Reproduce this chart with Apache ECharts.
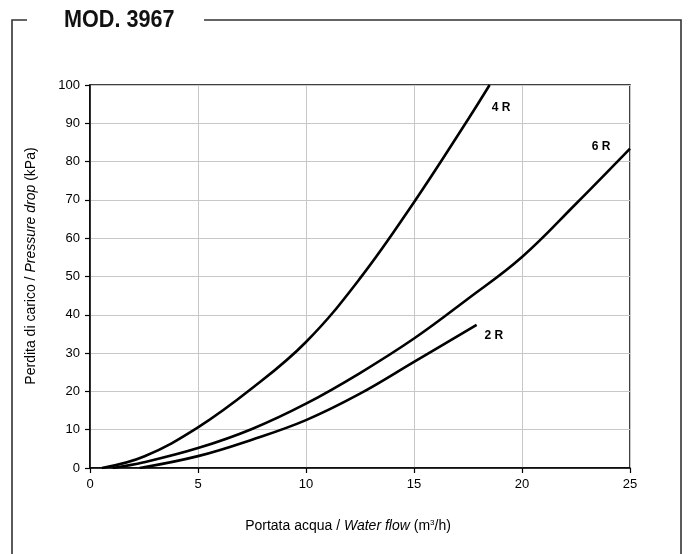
<!DOCTYPE html>
<html><head><meta charset="utf-8">
<script src="https://cdn.jsdelivr.net/npm/echarts@6/dist/echarts.min.js"></script>
<style>html,body{margin:0;padding:0;background:#fff;}#c{width:691px;height:554px;}</style>
</head><body><div id="c"></div>
<script>
const titleText = 'MOD. 3967';
const xTicks = [0, 5, 10, 15, 20, 25];
const yTicks = [0, 10, 20, 30, 40, 50, 60, 70, 80, 90, 100];

const r4x = [0.55, 2.5, 5, 7.5, 10, 12.5, 15, 17.5, 18.5];
const r4y = [0, 3.0, 10.6, 20.8, 32.9, 49.5, 69.4, 91, 100];
const r6x = [1.05, 2.5, 5, 7.5, 10, 12.5, 15, 17.5, 20, 22.5, 25];
const r6y = [0, 1.5, 5.2, 10.2, 16.8, 24.8, 33.8, 44.2, 55.1, 69, 83.4];
const r2x = [2.3, 5, 7.5, 10, 12.5, 15, 17.9];
const r2y = [0, 3.1, 7.4, 12.5, 19.4, 27.7, 37.4];

const seriesNames = ['4 R', '6 R', '2 R'];
const labelPos = [[19.03, 94.2], [23.66, 84.0], [18.7, 34.6]];

function pts(xs, ys) { return xs.map((x, i) => [x, ys[i]]); }

const chart = echarts.init(document.getElementById('c'), null, {renderer: 'canvas'});
const FONT = 'Liberation Sans, Arial, Helvetica, sans-serif';
const lineStyle = {color: '#000', width: 2.6};
const datasets = [pts(r4x, r4y), pts(r6x, r6y), pts(r2x, r2y)];

const series = datasets.map((d, i) => ({
  type: 'line', name: seriesNames[i], data: d, smooth: 0.4,
  showSymbol: false, symbol: 'none', lineStyle: lineStyle, silent: true, z: 3,
  markPoint: {
    symbol: 'circle', symbolSize: 0,
    label: {show: true, formatter: seriesNames[i], color: '#000', fontWeight: 'bold', fontSize: 12, fontFamily: FONT},
    data: [{coord: labelPos[i]}]
  }
}));

chart.setOption({
  animation: false,
  backgroundColor: '#fff',
  grid: {left: 90, right: 61, top: 85, bottom: 86, show: true, borderColor: '#000', borderWidth: 1.5, containLabel: false},
  xAxis: {
    type: 'value', min: 0, max: 25, interval: 5,
    axisLine: {show: true, lineStyle: {color: '#000', width: 1.5}},
    axisTick: {show: true, length: 5, lineStyle: {color: '#000', width: 1.2}},
    axisLabel: {color: '#000', fontSize: 13, fontFamily: FONT, margin: 10},
    splitLine: {show: true, lineStyle: {color: '#c8c8c8', width: 1}}
  },
  yAxis: {
    type: 'value', min: 0, max: 100, interval: 10,
    axisLine: {show: true, lineStyle: {color: '#000', width: 1.5}},
    axisTick: {show: true, length: 5, lineStyle: {color: '#000', width: 1.2}},
    axisLabel: {color: '#000', fontSize: 13, fontFamily: FONT, margin: 10},
    splitLine: {show: true, lineStyle: {color: '#c8c8c8', width: 1}}
  },
  series: series,
  graphic: [
    {type: 'polyline', shape: {points: [[12, 560], [12, 20], [27, 20]]}, style: {stroke: '#333', lineWidth: 1.6, fill: null}},
    {type: 'polyline', shape: {points: [[204, 20], [681, 20], [681, 560]]}, style: {stroke: '#333', lineWidth: 1.6, fill: null}},
    {type: 'text', x: 64, y: 8, scaleX: 0.9, style: {text: titleText, fontSize: 24, fontWeight: 'bold', fontFamily: FONT, fill: '#111', verticalAlign: 'top', align: 'left'}},
    {type: 'text', x: 348, y: 526, style: {
      text: '{n|Portata acqua / }{i|Water flow}{n| (m}{s|3}{n|/h)}',
      align: 'center', verticalAlign: 'middle',
      rich: {
        n: {fontSize: 14, fontFamily: FONT, fill: '#000'},
        i: {fontSize: 14, fontFamily: FONT, fontStyle: 'italic', fill: '#000'},
        s: {fontSize: 8, fontFamily: FONT, fill: '#000', verticalAlign: 'top', padding: [0, 0, 6, 0]}
      }
    }},
    {type: 'text', x: 31, y: 266, rotation: Math.PI / 2, style: {
      text: '{n|Perdita di carico / }{i|Pressure drop}{n| (kPa)}',
      align: 'center', verticalAlign: 'middle',
      rich: {
        n: {fontSize: 14, fontFamily: FONT, fill: '#000'},
        i: {fontSize: 14, fontFamily: FONT, fontStyle: 'italic', fill: '#000'}
      }
    }}
  ]
});
</script></body></html>
